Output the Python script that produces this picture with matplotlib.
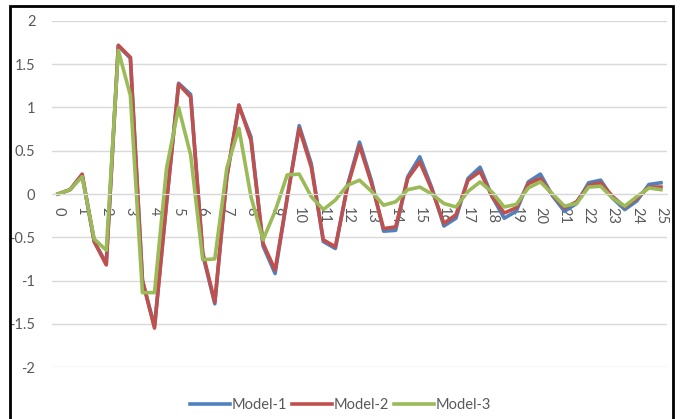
import matplotlib
matplotlib.use("Agg")
import matplotlib.pyplot as plt
from matplotlib.patches import Rectangle

# data, one point every half step from 0 to 25
model_1 = [0, 0.05, 0.22, -0.55, -0.8, 1.71, 1.57, -1.0, -1.53, -0.1,
           1.28, 1.15, -0.7, -1.27, 0.2, 1.02, 0.66, -0.6, -0.92, -0.05,
           0.79, 0.35, -0.55, -0.63, 0.1, 0.6, 0.15, -0.43, -0.42, 0.2,
           0.43, 0.07, -0.37, -0.28, 0.18, 0.31, -0.03, -0.28, -0.2, 0.14,
           0.23, -0.02, -0.2, -0.11, 0.13, 0.16, -0.05, -0.18, -0.08, 0.11,
           0.13]
model_2 = [0, 0.05, 0.23, -0.55, -0.82, 1.72, 1.58, -1.0, -1.55, -0.1,
           1.27, 1.12, -0.68, -1.25, 0.2, 1.03, 0.62, -0.57, -0.88, -0.05,
           0.76, 0.31, -0.53, -0.61, 0.08, 0.56, 0.12, -0.4, -0.38, 0.18,
           0.37, 0.05, -0.34, -0.24, 0.16, 0.26, -0.03, -0.22, -0.16, 0.12,
           0.18, -0.01, -0.16, -0.09, 0.1, 0.13, -0.03, -0.15, -0.05, 0.08,
           0.08]
model_3 = [0, 0.05, 0.2, -0.52, -0.65, 1.66, 1.14, -1.14, -1.14, 0.3,
           1.0, 0.45, -0.76, -0.75, 0.3, 0.76, -0.03, -0.53, -0.2, 0.22,
           0.23, -0.03, -0.18, -0.07, 0.1, 0.16, 0.03, -0.13, -0.09, 0.05,
           0.08, 0.0, -0.11, -0.15, 0.03, 0.14, 0.02, -0.15, -0.12, 0.07,
           0.14, 0.0, -0.14, -0.11, 0.08, 0.09, -0.05, -0.14, -0.03, 0.07,
           0.05]
x = [i * 0.5 for i in range(len(model_1))]
tick_pos = list(range(26))
tick_labels = [str(t) for t in tick_pos]
y_ticks = [-2, -1.5, -1, -0.5, 0, 0.5, 1, 1.5, 2]

plt.rcParams["font.family"] = ["Lato", "DejaVu Sans"]
plt.rcParams["axes.unicode_minus"] = False

fig = plt.figure(figsize=(6.81, 4.19), dpi=100)
ax = fig.add_axes([52 / 681, 52 / 419, 615 / 681, 346 / 419])

ax.plot(x, model_1, color="#4F81BD", lw=2.6, solid_joinstyle="round", label="Model-1")
ax.plot(x, model_2, color="#C0504D", lw=2.6, solid_joinstyle="round", label="Model-2")
ax.plot(x, model_3, color="#9BBB59", lw=2.6, solid_joinstyle="round", label="Model-3")

ax.set_xlim(-0.25, 25.25)
ax.set_ylim(-2, 2)
ax.set_yticks(y_ticks)
ax.set_yticklabels(["%g" % v for v in y_ticks])
ax.set_xticks(tick_pos)
ax.set_xticklabels(tick_labels)

ax.grid(axis="y", color="#d9d9d9", lw=1)
ax.set_axisbelow(True)
for s in ["left", "right", "top"]:
    ax.spines[s].set_visible(False)
ax.spines["bottom"].set_position(("data", 0))
ax.spines["bottom"].set_color("#d9d9d9")
ax.tick_params(axis="both", length=0, labelsize=10.5, labelcolor="#595959")
ax.tick_params(axis="y", pad=12)
ax.tick_params(axis="x", pad=9, labelrotation=-90)
for lab in ax.get_xticklabels():
    lab.set_va("top")
    lab.set_ha("center")

fig.legend(loc="center", bbox_to_anchor=(0.5, 1 - 405 / 419), ncol=3, frameon=False,
           fontsize=10.5, labelcolor="#595959", handlelength=2.7, handletextpad=0.1,
           columnspacing=0.4)

fig.patches.append(Rectangle((10 / 681, -0.05), 663 / 681, 1.035, transform=fig.transFigure,
                             fill=False, edgecolor="black", lw=2))

fig.savefig("out.png", dpi=100)
